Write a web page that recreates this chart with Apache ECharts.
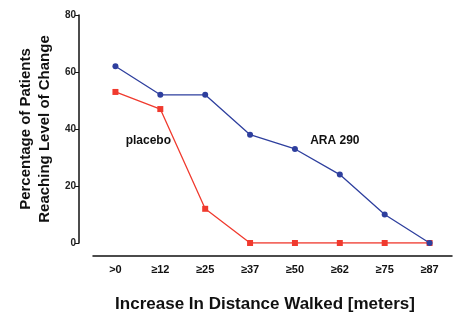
<!DOCTYPE html>
<html>
<head>
<meta charset="utf-8">
<script src="https://cdn.jsdelivr.net/npm/echarts@6/dist/echarts.min.js"></script>
<style>
  html, body { margin: 0; padding: 0; background: #fff; }
  #chart { width: 454px; height: 315px; }
</style>
</head>
<body>
<div id="chart"></div>
<script>
var categories = ['>0', '≥12', '≥25', '≥37', '≥50', '≥62', '≥75', '≥87'];
var araValues = [62, 52, 52, 38, 33, 24, 10, 0];
var placeboValues = [53, 47, 12, 0, 0, 0, 0, 0];
var yTicks = { min: 0, max: 80, interval: 20 };

var chart = echarts.init(document.getElementById('chart'));
var font = 'Liberation Sans, Arial, sans-serif';

var option = {
    backgroundColor: '#fff',
    animation: false,
    grid: { left: 93, top: 15, width: 359, height: 228, outerBoundsMode: 'none', containLabel: false },
    xAxis: {
        type: 'category',
        data: categories,
        offset: 13,
        axisLine: { onZero: false, lineStyle: { color: '#111', width: 1.5 } },
        axisTick: { alignWithLabel: true, length: 4, lineStyle: { color: '#111' } },
        axisLabel: { color: '#111', fontWeight: 'bold', fontSize: 11, fontFamily: font, margin: 8 },
        name: 'Increase In Distance Walked [meters]',
        nameLocation: 'middle',
        nameGap: 40,
        nameTextStyle: { color: '#111', fontWeight: 'bold', fontSize: 17, fontFamily: font, padding: [0, 15, 0, 0] }
    },
    yAxis: {
        type: 'value',
        min: yTicks.min,
        max: yTicks.max,
        interval: yTicks.interval,
        offset: 14,
        splitLine: { show: false },
        axisLine: { show: true, onZero: false, lineStyle: { color: '#111', width: 1.5 } },
        axisTick: { show: true, length: 4, lineStyle: { color: '#111' } },
        axisLabel: { color: '#222', fontWeight: 'bold', fontSize: 10, fontFamily: font, margin: 3 },
        name: 'Percentage of Patients\nReaching Level of Change',
        nameLocation: 'middle',
        nameGap: 20,
        nameTextStyle: { color: '#111', fontWeight: 'bold', fontSize: 15, lineHeight: 19, fontFamily: font }
    },
    series: [
        {
            name: 'ARA 290',
            type: 'line',
            data: araValues,
            symbol: 'circle',
            symbolSize: 6,
            z: 3,
            lineStyle: { color: '#2e3f9e', width: 1.3 },
            itemStyle: { color: '#2e3f9e' },
            markPoint: {
                symbol: 'rect', symbolSize: 0,
                label: { show: true, formatter: 'ARA 290', offset: [-5, 0], color: '#111', fontWeight: 'bold', fontSize: 12, fontFamily: font },
                data: [{ coord: [5, 36] }]
            }
        },
        {
            name: 'placebo',
            type: 'line',
            data: placeboValues,
            symbol: 'rect',
            symbolSize: 6,
            z: 2,
            lineStyle: { color: '#f03a2e', width: 1.3 },
            itemStyle: { color: '#f03a2e' },
            markPoint: {
                symbol: 'rect', symbolSize: 0,
                label: { show: true, formatter: 'placebo', offset: [-12, 0], color: '#111', fontWeight: 'bold', fontSize: 12, fontFamily: font },
                data: [{ coord: [1, 36] }]
            }
        }
    ]
};
chart.setOption(option);
</script>
</body>
</html>
